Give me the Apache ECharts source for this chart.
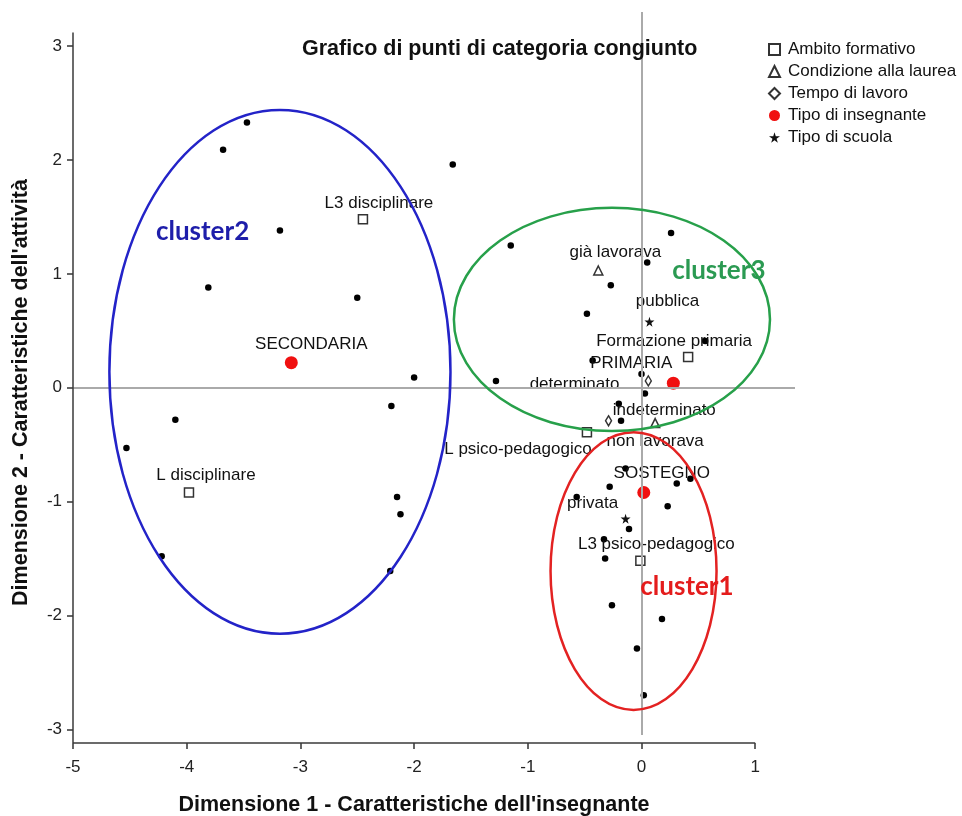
<!DOCTYPE html>
<html>
<head>
<meta charset="utf-8">
<title>Grafico di punti di categoria congiunto</title>
<style>
  html, body { margin: 0; padding: 0; background: #fff; }
  #chart { width: 962px; height: 816px; }
</style>
</head>
<body>
<div id="chart"></div>
<script src="https://cdn.jsdelivr.net/npm/echarts@6/dist/echarts.min.js"></script>
<script>
// punti di categoria, una coppia di array per variabile
const ambitoNames = ['L3 disciplinare', 'L disciplinare', 'Formazione primaria', 'L psico-pedagogico', 'L3 psico-pedagogico'];
const ambitoPoints = [[-2.45, 1.48], [-3.98, -0.92], [0.41, 0.27], [-0.48, -0.39], [-0.01, -1.52]];
const condizioneNames = ['già lavorava', 'non lavorava'];
const condizionePoints = [[-0.38, 1.03], [0.12, -0.31]];
const tempoNames = ['determinato', 'indeterminato'];
const tempoPoints = [[-0.29, -0.29], [0.06, 0.06]];
const insegnanteNames = ['SECONDARIA', 'PRIMARIA', 'SOSTEGNO'];
const insegnantePoints = [[-3.08, 0.22], [0.28, 0.04], [0.02, -0.92]];
const scuolaNames = ['pubblica', 'privata'];
const scuolaPoints = [[0.07, 0.58], [-0.14, -1.15]];

// punti oggetto (senza legenda)
const objectPoints = [
  [-3.47, 2.33], [-3.68, 2.09], [-1.66, 1.96], [-3.18, 1.38], [-3.81, 0.88], [-2.50, 0.79],
  [-2.00, 0.09], [-2.20, -0.16], [-4.10, -0.28], [-4.53, -0.53], [-2.15, -0.96], [-2.12, -1.11],
  [-4.22, -1.48], [-2.21, -1.61], [-1.15, 1.25], [0.26, 1.36], [0.05, 1.10], [-0.27, 0.90],
  [-0.48, 0.65], [0.56, 0.41], [-0.43, 0.24], [-1.28, 0.06], [0.00, 0.12], [0.03, -0.05],
  [-0.20, -0.14], [-0.18, -0.29], [-0.14, -0.71], [-0.28, -0.87], [0.31, -0.84], [0.43, -0.80],
  [-0.57, -0.96], [0.23, -1.04], [-0.11, -1.24], [-0.33, -1.33], [-0.32, -1.50], [-0.26, -1.91],
  [0.18, -2.03], [-0.04, -2.29], [0.02, -2.70]
];

// cluster disegnati a mano sul grafico
const clusterNames = ['cluster1', 'cluster2', 'cluster3'];
const clusterCenters = [[-0.07, -1.61], [-3.18, 0.14], [-0.26, 0.60]];
const clusterRadii = [[0.73, 1.22], [1.50, 2.30], [1.39, 0.98]];
const clusterLabelAt = [[0.40, -1.75], [-3.86, 1.37], [0.68, 1.03]];

const xTicks = [-5, -4, -3, -2, -1, 0, 1];
const yTicks = [-3, -2, -1, 0, 1, 2, 3];

// styles
const font = 'Liberation Sans';
const clusterLine = ['#e32222', '#2323c8', '#27a04a'];
const clusterText = ['#e41c1c', '#1e1eaa', '#2b9a52'];
const labelOffset = {
  'L3 disciplinare': [16, -16], 'L disciplinare': [17, -17], 'Formazione primaria': [-14, -16],
  'L psico-pedagogico': [-69, 17], 'L3 psico-pedagogico': [16, -17],
  'già lavorava': [17, -18], 'non lavorava': [0, 18],
  'determinato': [-34, -36], 'indeterminato': [16, 29],
  'SECONDARIA': [20, -18], 'PRIMARIA': [-42, -20], 'SOSTEGNO': [18, -19],
  'pubblica': [18, -20], 'privata': [-33, -15]
};
const star = 'path://M50,0 L61,35 L98,35 L68,57 L79,91 L50,70 L21,91 L32,57 L2,35 L39,35 Z';

function toData(names, points) {
  return points.map((p, i) => ({ name: names[i], value: p, label: { offset: labelOffset[names[i]] } }));
}

const pointLabel = {
  show: true, position: 'inside', formatter: '{b}',
  color: '#111', fontSize: 17, fontFamily: font
};
const openStyle = { color: '#fff', borderColor: '#333', borderWidth: 1.5, opacity: 1 };

const chart = echarts.init(document.getElementById('chart'));
chart.setOption({
  animation: false,
  title: {
    text: 'Grafico di punti di categoria congiunto',
    left: 297, top: 33,
    textStyle: { fontFamily: font, fontSize: 21.5, fontWeight: 'bold', color: '#111' }
  },
  legend: {
    orient: 'vertical', left: 763, top: 36, itemGap: 5,
    itemWidth: 11, itemHeight: 11,
    data: ['Ambito formativo', 'Condizione alla laurea', 'Tempo di lavoro', 'Tipo di insegnante', 'Tipo di scuola'],
    textStyle: { fontFamily: font, fontSize: 17, color: '#111', padding: [0, 0, 0, 3] }
  },
  grid: { left: 73, right: 167, top: 12, bottom: 73, outerBoundsMode: 'none' },
  xAxis: {
    type: 'value', min: -5, max: 1.35,
    name: 'Dimensione 1 - Caratteristiche dell\'insegnante',
    nameLocation: 'middle', nameGap: 51,
    nameTextStyle: { fontFamily: font, fontSize: 21.5, fontWeight: 'bold', color: '#111', padding: [0, 40, 0, 0] },
    axisLine: { show: false, onZero: false },
    axisTick: { show: true, length: 6, customValues: xTicks, lineStyle: { color: '#333', width: 1.5 } },
    axisLabel: { customValues: xTicks, margin: 16, fontFamily: font, fontSize: 17, color: '#222' },
    splitLine: { show: false }
  },
  yAxis: {
    type: 'value', min: -3.12, max: 3.3,
    name: 'Dimensione 2 - Caratteristiche dell\'attività',
    nameLocation: 'middle', nameGap: 41,
    nameTextStyle: { fontFamily: font, fontSize: 21.5, fontWeight: 'bold', color: '#111', padding: [0, 30, 0, 0] },
    axisLine: { show: false, onZero: false },
    axisTick: { show: true, length: 6, customValues: yTicks, lineStyle: { color: '#333', width: 1.5 } },
    axisLabel: { customValues: yTicks, margin: 11, fontFamily: font, fontSize: 17, color: '#222' },
    splitLine: { show: false }
  },
  series: [
    {
      name: 'punti', type: 'scatter', symbol: 'circle', symbolSize: 6.5,
      itemStyle: { color: '#000', opacity: 1 }, data: objectPoints, z: 2
    },
    {
      name: 'Ambito formativo', type: 'scatter', symbol: 'rect', symbolSize: 9,
      itemStyle: openStyle, label: pointLabel, data: toData(ambitoNames, ambitoPoints), z: 3
    },
    {
      name: 'Condizione alla laurea', type: 'scatter', symbol: 'triangle', symbolSize: 9,
      itemStyle: openStyle, label: pointLabel, data: toData(condizioneNames, condizionePoints), z: 3
    },
    {
      name: 'Tempo di lavoro', type: 'scatter', symbol: 'diamond', symbolSize: [6, 10],
      itemStyle: openStyle, label: pointLabel, data: toData(tempoNames, tempoPoints), z: 3
    },
    {
      name: 'Tipo di insegnante', type: 'scatter', symbol: 'circle', symbolSize: 13,
      itemStyle: { color: '#f01010', opacity: 1 }, label: pointLabel, data: toData(insegnanteNames, insegnantePoints), z: 3
    },
    {
      name: 'Tipo di scuola', type: 'scatter', symbol: star, symbolSize: 10,
      itemStyle: { color: '#111', opacity: 1 }, label: pointLabel, data: toData(scuolaNames, scuolaPoints), z: 3
    },
    {
      // assi e linee di riferimento
      name: 'linee', type: 'scatter', data: [], z: 4, silent: true,
      markLine: {
        symbol: ['none', 'none'], silent: true, animation: false,
        label: { show: false },
        data: [
          [{ coord: [0, -3.05], lineStyle: { color: '#aaa', width: 2 } }, { coord: [0, 3.3] }],
          [{ coord: [-5, 0], lineStyle: { color: '#aaa', width: 2 } }, { coord: [1.35, 0] }],
          [{ coord: [-5, -3.12], lineStyle: { color: '#3a3a3a', width: 1.5 } }, { coord: [1, -3.12] }],
          [{ coord: [-5, -3.12], lineStyle: { color: '#3a3a3a', width: 1.5 } }, { coord: [-5, 3.12] }]
        ],
        lineStyle: { type: 'solid' }
      }
    },
    {
      name: 'cluster', type: 'custom', z: 6, silent: true, clip: false,
      data: clusterNames.map((n, i) => [
        clusterCenters[i][0], clusterCenters[i][1], clusterRadii[i][0], clusterRadii[i][1],
        clusterLabelAt[i][0], clusterLabelAt[i][1], i
      ]),
      renderItem: function (params, api) {
        const c = api.coord([api.value(0), api.value(1)]);
        const s = api.size([api.value(2), api.value(3)]);
        const t = api.coord([api.value(4), api.value(5)]);
        const i = api.value(6);
        return {
          type: 'group',
          children: [
            {
              type: 'ellipse',
              shape: { cx: c[0], cy: c[1], rx: s[0], ry: s[1] },
              style: { fill: 'none', stroke: clusterLine[i], lineWidth: 2.5 }
            },
            {
              type: 'text', x: t[0], y: t[1],
              style: {
                text: clusterNames[i], fill: clusterText[i],
                fontFamily: 'Lato', fontSize: 26, fontWeight: 'bold',
                align: 'center', verticalAlign: 'middle'
              }
            }
          ]
        };
      }
    }
  ]
});
</script>
</body>
</html>
